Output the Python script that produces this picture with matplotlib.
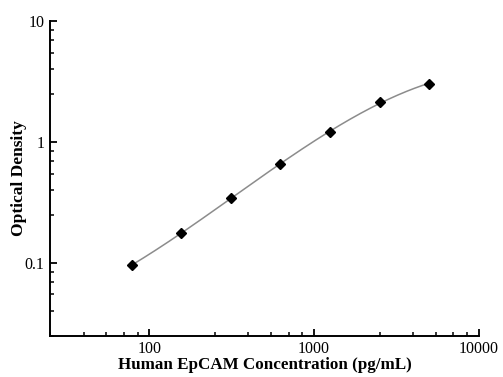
import matplotlib
matplotlib.use("Agg")
import matplotlib.pyplot as plt
import numpy as np
from matplotlib.ticker import FixedLocator, FixedFormatter, NullFormatter

# standard curve readings
conc = [78.125, 156.25, 312.5, 625, 1250, 2500, 5000]
od = [0.096, 0.176, 0.346, 0.66, 1.21, 2.13, 3.05]

x_major = [100, 1000, 10000]
x_labels = ["100", "1000", "10000"]
y_major = [0.1, 1, 10]
y_labels = ["0.1", "1", "10"]

plt.rcParams["font.family"] = ["Liberation Serif", "DejaVu Serif"]

fig = plt.figure(figsize=(5.03, 3.77), dpi=100)
ax = fig.add_axes([0.0994, 0.109, 0.8526, 0.835])

# smooth fitted curve in log-log space
lx, ly = np.log10(conc), np.log10(od)
coef = np.polyfit(lx, ly, 3)
xs = np.linspace(lx[0], lx[-1], 200)
ax.plot(10 ** xs, 10 ** np.polyval(coef, xs), color="#8c8c8c", lw=1.1, zorder=2)
ax.plot(conc, od, ls="none", marker="D", ms=5.5, color="black", zorder=3)

ax.set_xscale("log")
ax.set_yscale("log")
ax.set_xlim(25, 10000)
ax.set_ylim(0.025, 10)

# Origin-style minor ticks: linear steps inside each decade
steps = [2.5, 4, 5.5, 7, 8.5]
x_minor = [s * b for b in (10, 100, 1000) for s in steps if 25 <= s * b <= 10000]
y_minor = [s * b for b in (0.01, 0.1, 1) for s in steps if 0.025 <= s * b <= 10]
ax.xaxis.set_major_locator(FixedLocator(x_major))
ax.xaxis.set_major_formatter(FixedFormatter(x_labels))
ax.xaxis.set_minor_locator(FixedLocator(x_minor))
ax.xaxis.set_minor_formatter(NullFormatter())
ax.yaxis.set_major_locator(FixedLocator(y_major))
ax.yaxis.set_major_formatter(FixedFormatter(y_labels))
ax.yaxis.set_minor_locator(FixedLocator(y_minor))
ax.yaxis.set_minor_formatter(NullFormatter())

ax.tick_params(which="major", direction="in", length=5, width=1.3, labelsize=11.5, pad=4)
ax.tick_params(which="minor", direction="in", length=3, width=1.1)
ax.spines["top"].set_visible(False)
ax.spines["right"].set_visible(False)
ax.spines["left"].set_linewidth(1.4)
ax.spines["bottom"].set_linewidth(1.4)

ax.set_xlabel("Human EpCAM Concentration (pg/mL)", fontsize=12.25, fontweight="bold", labelpad=0)
ax.set_ylabel("Optical Density", fontsize=12.5, fontweight="bold", labelpad=-2)

fig.savefig("out.png", dpi=100)
